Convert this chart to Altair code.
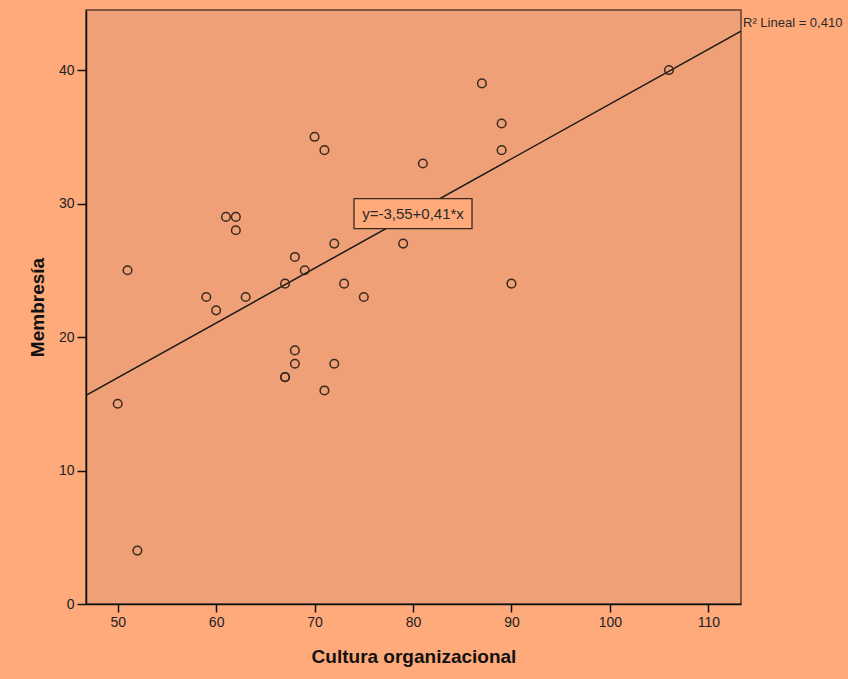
import altair as alt
import pandas as pd

# Observations: organisational culture score vs. membership score
cultura = [50, 51, 52, 59, 60, 61, 62, 62, 63, 67, 67, 67, 68, 68, 68,
           69, 70, 71, 71, 72, 72, 73, 75, 79, 81, 87, 89, 89, 90, 106]
membresia = [15, 25, 4, 23, 22, 29, 29, 28, 23, 24, 17, 17, 26, 19, 18,
             25, 35, 34, 16, 27, 18, 24, 23, 27, 33, 39, 36, 34, 24, 40]

# Fitted linear model as reported on the chart
intercept = -3.55
slope = 0.41
r2_text = "R\u00b2 Lineal = 0,410"
eq_text = "y=-3,55+0,41*x"
eq_x = 80

x_domain = [46.78, 113.32]
y_domain = [0, 44.5]
x_ticks = [50, 60, 70, 80, 90, 100, 110]
y_ticks = [0, 10, 20, 30, 40]

FONT = "Liberation Sans"
OUTER = "#FFAA7A"
INNER = "#EFA076"

points = pd.DataFrame({"Cultura organizacional": cultura, "Membresía": membresia})
fit = pd.DataFrame({
    "x": x_domain,
    "y": [intercept + slope * v for v in x_domain],
})
eq = pd.DataFrame({"x": [eq_x], "y": [intercept + slope * eq_x], "t": [eq_text]})
r2 = pd.DataFrame({"x": [x_domain[1]], "y": [intercept + slope * x_domain[1]], "t": [r2_text]})

xs = alt.Scale(domain=x_domain, nice=False, zero=False)
ys = alt.Scale(domain=y_domain, nice=False, zero=False)

x_axis = alt.Axis(values=x_ticks, grid=False, tickSize=8, labelPadding=3,
                  titleY=58, titleBaseline="alphabetic")
y_axis = alt.Axis(values=y_ticks, grid=False, tickSize=9, labelPadding=3,
                  titleX=-43, titleY=297, titleAngle=-90,
                  titleBaseline="alphabetic", titleAlign="center")

scatter = alt.Chart(points).mark_point(
    shape="circle", filled=False, size=74, stroke="#3a2a20", strokeWidth=1.5, opacity=1
).encode(
    x=alt.X("Cultura organizacional:Q", scale=xs, axis=x_axis, title="Cultura organizacional"),
    y=alt.Y("Membresía:Q", scale=ys, axis=y_axis, title="Membresía"),
)

line = alt.Chart(fit).mark_line(color="#1a1a1a", strokeWidth=1.5, clip=True).encode(
    x=alt.X("x:Q", scale=xs), y=alt.Y("y:Q", scale=ys)
)

box = alt.Chart(eq).mark_point(
    shape="M-1,-0.254L1,-0.254L1,0.254L-1,0.254Z",
    size=118 * 118, filled=True, fill=OUTER, fillOpacity=1,
    stroke="#3a2a20", strokeWidth=1.3, opacity=1
).encode(x=alt.X("x:Q", scale=xs), y=alt.Y("y:Q", scale=ys))

eq_label = alt.Chart(eq).mark_text(
    font=FONT, fontSize=15, color="#2a2a2a", align="center", baseline="middle"
).encode(x=alt.X("x:Q", scale=xs), y=alt.Y("y:Q", scale=ys), text="t:N")

r2_label = alt.Chart(r2).mark_text(
    font=FONT, fontSize=13, color="#2a2a2a", align="left", baseline="middle", dx=2, dy=-8
).encode(x=alt.X("x:Q", scale=xs), y=alt.Y("y:Q", scale=ys), text="t:N")

chart = alt.layer(line, scatter, box, eq_label, r2_label).properties(
    width=655, height=594,
    autosize=alt.AutoSizeParams(type="none"),
    padding={"left": 86, "top": 10, "right": 107, "bottom": 75},
    background=OUTER,
).configure_view(
    fill=INNER, stroke="#5c4033", strokeWidth=1.5
).configure_axis(
    domainColor="#111111", domainWidth=1.5, tickColor="#111111", tickWidth=1.5,
    labelFont=FONT, labelFontSize=14, labelColor="#222222",
    titleFont=FONT, titleFontSize=19, titleFontWeight="bold", titleColor="#111111",
)

chart.save("out.html", embed_options={"renderer": "svg", "actions": False})
